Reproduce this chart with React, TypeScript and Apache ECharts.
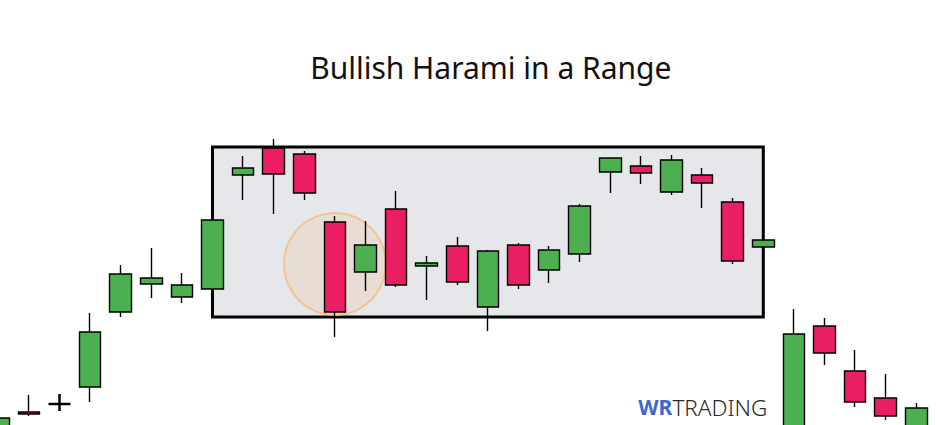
import React, { useEffect, useRef } from "react";
import * as echarts from "echarts";

// Candle index labels (31 sessions)
const categories: string[] = Array.from({ length: 31 }, (_, i) => `D${i + 1}`);

// OHLC, ECharts order: [open, close, low, high]
const opens = [40, 88, 96, 113, 188, 216, 203, 211, 325, 352, 346, 278, 228, 291, 234, 254, 193, 255, 230, 246, 328, 334, 308, 325, 298, 253, 40, 174, 129, 102, 60];
const closes = [82, 86, 96, 168, 226, 222, 215, 280, 332, 326, 307, 188, 255, 215, 237, 218, 249, 215, 250, 294, 342, 327, 340, 317, 239, 260, 166, 147, 98, 84, 92];
const lows = [30, 84, 89, 98, 183, 202, 197, 211, 300, 286, 300, 163, 209, 213, 200, 215, 169, 211, 217, 238, 307, 316, 305, 292, 236, 253, 30, 135, 93, 80, 50];
const highs = [82, 105, 106, 187, 235, 252, 227, 280, 344, 361, 349, 284, 279, 309, 244, 263, 250, 257, 254, 296, 342, 344, 345, 332, 302, 260, 191, 182, 150, 126, 97];

// Trading range box (from candle 8 to candle 26) and its price bounds
const rangeStart = 7;
const rangeEnd = 25;
const rangeTop = 353;
const rangeBottom = 183;

// Highlighted harami (mother candle index, price of circle centre)
const haramiIndex = 11;
const haramiPrice = 236;

const dojiIndex = 2;

const GREEN = "#4caf50";
const RED = "#e91e63";

// the chart canvas starts a little left of the window so the first candle is cut off
const SHIFT = 17.3;

export default function App() {
  const ref = useRef<HTMLDivElement>(null);
  useEffect(() => {
    if (!ref.current) return;
    const chart = echarts.init(ref.current, null, { renderer: "svg" });
    const data = categories.map((_, i) => {
      const item: any = { value: [opens[i], closes[i], lows[i], highs[i]] };
      if (i === dojiIndex) {
        item.itemStyle = { color: "#000", color0: "#000", borderColor: "#000", borderColor0: "#000", borderColorDoji: "#000", borderWidth: 2.5 };
      }
      return item;
    });
    chart.setOption({
      animation: false,
      backgroundColor: "#ffffff",
      grid: { left: 0, right: 4.4, top: 0, bottom: 0, containLabel: false },
      xAxis: {
        type: "category",
        data: categories,
        boundaryGap: true,
        show: false,
      },
      yAxis: {
        type: "value",
        min: 75,
        max: 500,
        show: false,
        splitLine: { show: false },
      },
      graphic: [
        {
          type: "text",
          x: 490.5 + SHIFT,
          y: 67,
          style: {
            text: "Bullish Harami in a Range",
            font: "30px 'Noto Sans'",
            fill: "#111111",
            align: "center",
            verticalAlign: "middle",
          },
        },
        {
          type: "text",
          x: 638 + SHIFT,
          y: 407,
          style: {
            text: "{a|WR}{b|TRADING}",
            verticalAlign: "middle",
            rich: {
              a: { fontFamily: "Noto Sans", fontWeight: "bold", fontSize: 21, fill: "#3a68cf", color: "#3a68cf" },
              b: { fontFamily: "Noto Sans", fontWeight: 300, fontSize: 22.5, fill: "#2a2a2a", color: "#2a2a2a" },
            },
          },
        },
      ],
      series: [
        {
          type: "scatter",
          z: 1.5,
          symbol: "circle",
          symbolSize: 102,
          silent: true,
          data: [[haramiIndex, haramiPrice]],
          itemStyle: {
            color: "rgba(238, 200, 160, 0.3)",
            borderColor: "#f0c48a",
            borderWidth: 1.8,
            opacity: 1,
          },
        },
        {
          type: "candlestick",
          z: 2,
          barWidth: 22,
          data,
          itemStyle: {
            color: GREEN,
            color0: RED,
            borderColor: "#000000",
            borderColor0: "#000000",
            borderColorDoji: "#000000",
            borderWidth: 1.4,
          },
          markArea: {
            silent: true,
            itemStyle: {
              color: "#e6e7eb",
              borderColor: "#000000",
              borderWidth: 3,
            },
            data: [
              [
                { xAxis: rangeStart, yAxis: rangeTop },
                { xAxis: rangeEnd, yAxis: rangeBottom },
              ],
            ],
          },
        },
      ],
    });
    return () => chart.dispose();
  }, []);
  return (
    <div
      ref={ref}
      style={{ position: "fixed", left: -SHIFT, top: 0, width: 936 + SHIFT, height: 425 }}
    />
  );
}
